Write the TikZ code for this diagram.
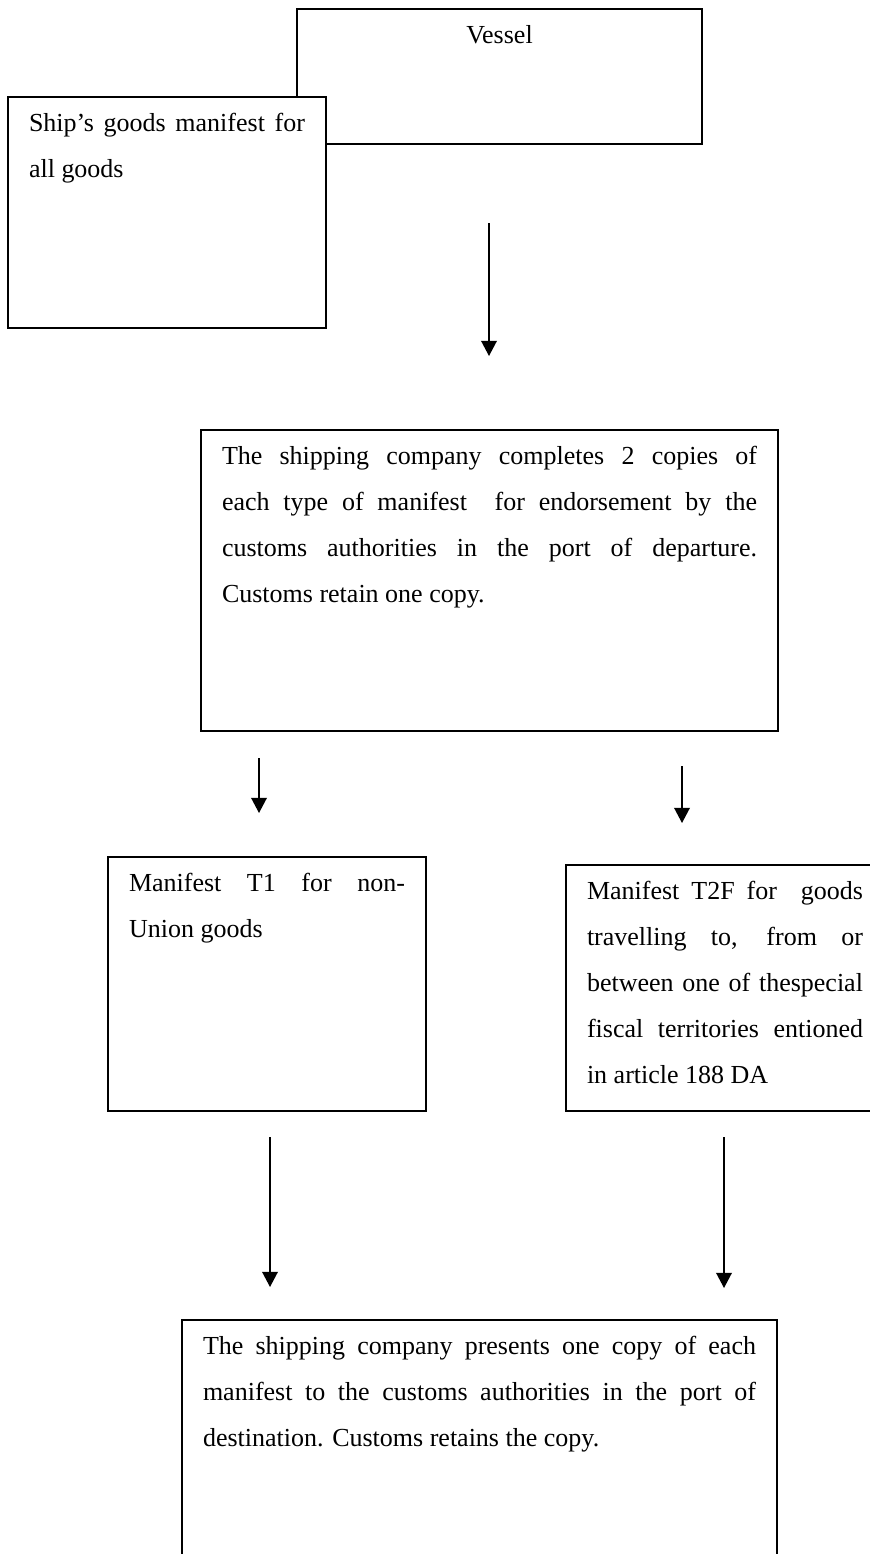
\documentclass[tikz,border=0pt]{standalone}
\usepackage{fontspec}
\setmainfont{Liberation Serif}
\usetikzlibrary{arrows.meta}
\tikzset{
  boite/.style={draw, line width=1pt, fill=white, anchor=north west, outer sep=0pt,
    inner xsep=10.5pt, inner ysep=8pt, text height=9pt, align=justify,
    font=\fontsize{13}{23}\selectfont},
  fleche/.style={line width=0.85pt, -{Triangle[width=7.8pt,length=7.6pt]}}
}
\begin{document}
\begin{tikzpicture}[x=0.5pt, y=-0.5pt]
            \clip (0,0) rectangle (870,1554);
            % Déclaration des boîtes
            \node[boite, align=center, text width=181.5pt, text depth=42.5pt] (vessel) at (297,9) {Vessel};
            \node[boite, text width=138pt, text depth=90.5pt] (ship) at (8,97) {Ship’s goods manifest for\linebreak all goods};
            \node[boite, text width=267.5pt, text depth=125.5pt] (depart) at (201,430) {The shipping company completes 2 copies of\linebreak each type of manifest \ for endorsement by the\linebreak customs authorities in the port of departure.\linebreak Customs retain one copy.};
            \node[boite, text width=138pt, text depth=102pt] (tun) at (108,857) {Manifest T1 for non-\linebreak Union goods};
            \node[boite, text width=138pt, text depth=98pt] (tdeuxf) at (566,865) {Manifest T2F for \ goods\linebreak travelling to, from or\linebreak between one of thespecial\linebreak fiscal territories entioned\linebreak in article 188 DA};
            \node[boite, text width=276.5pt, text depth=135pt] (arrivee) at (182,1320) {The shipping company presents one copy of each\linebreak manifest to the customs authorities in the port of\linebreak destination. Customs retains the copy.};

            % Extrémités des flèches
            \coordinate (f1h) at (489,223);  \coordinate (f1b) at (489,356);
            \coordinate (f2h) at (259,758);  \coordinate (f2b) at (259,813);
            \coordinate (f3h) at (682,766);  \coordinate (f3b) at (682,823);
            \coordinate (f4h) at (270,1137); \coordinate (f4b) at (270,1287);
            \coordinate (f5h) at (724,1137); \coordinate (f5b) at (724,1288);

            % Ajout des flèches
            \draw[fleche] (f1h) -- (f1b);
            \draw[fleche] (f2h) -- (f2b);
            \draw[fleche] (f3h) -- (f3b);
            \draw[fleche] (f4h) -- (f4b);
            \draw[fleche] (f5h) -- (f5b);
          \end{tikzpicture}
\end{document}
